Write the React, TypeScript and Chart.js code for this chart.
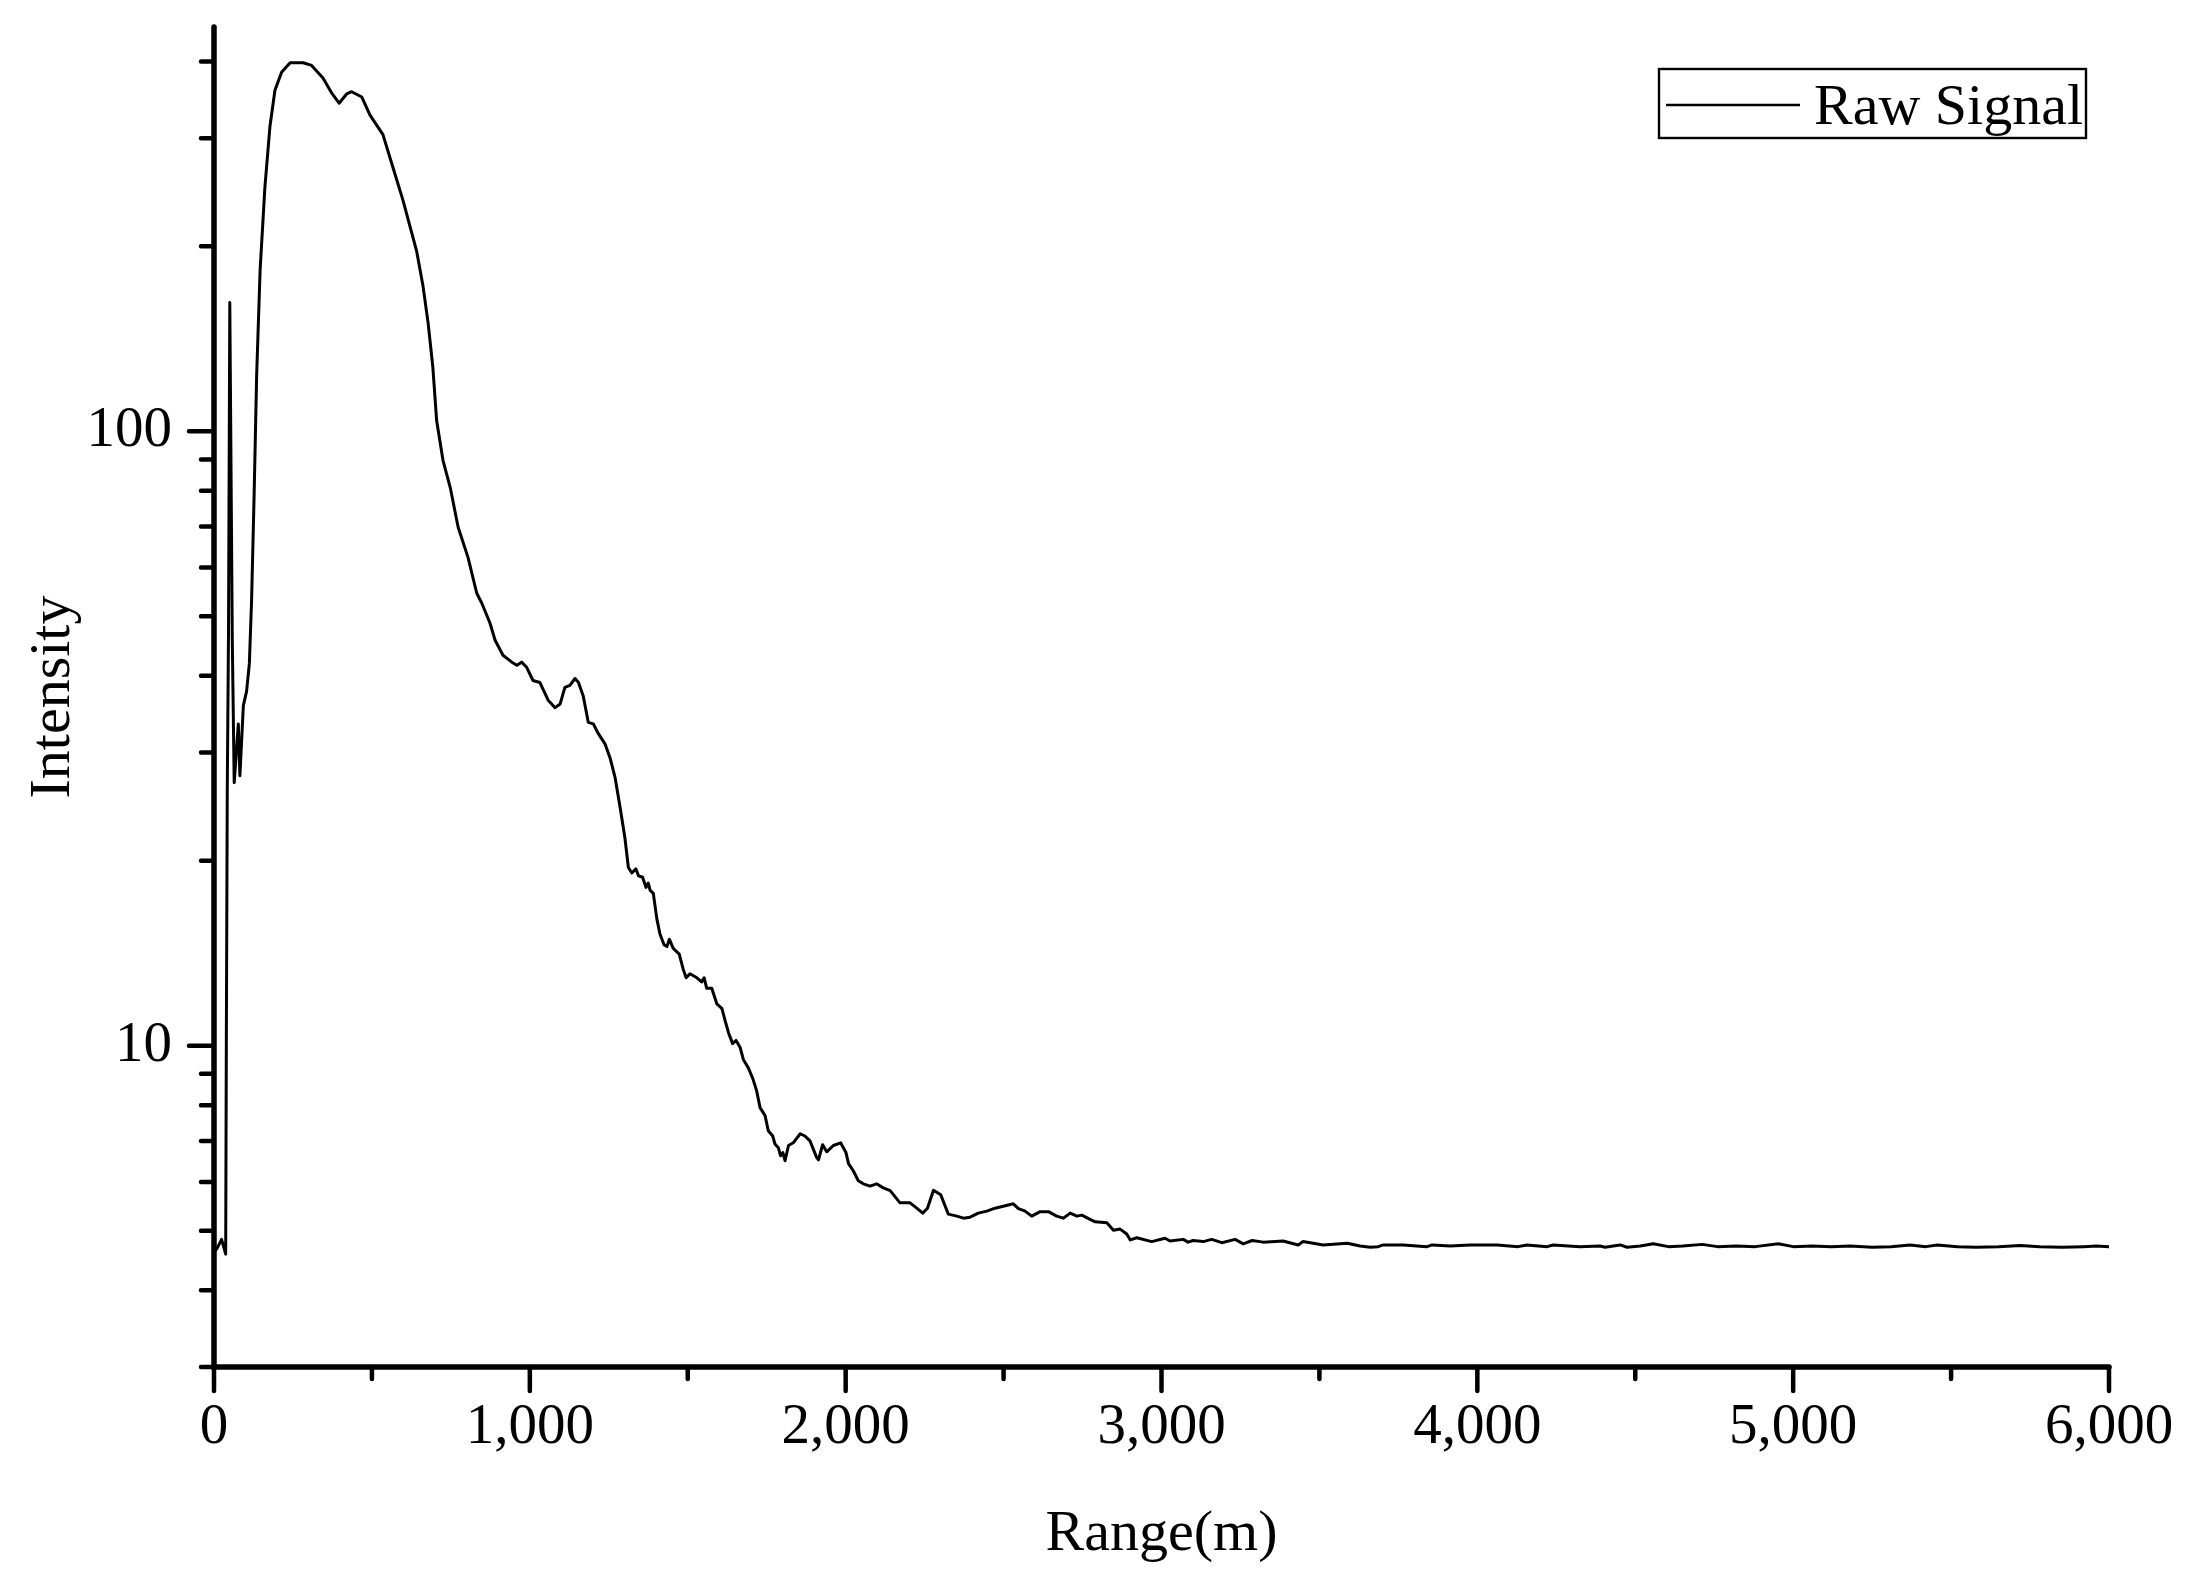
import React, { useEffect, useRef } from 'react';
import { Chart, registerables } from 'chart.js';

Chart.register(...registerables);

// ---- Data ----
const rangeM: number[] = [
  0, 9, 24, 37, 39, 42, 46, 50, 58, 64, 77, 82, 93, 103, 112, 119, 127, 135, 146, 161,
  177, 193, 214, 241, 282, 309, 345, 373, 396, 420, 436, 468, 494, 535, 557, 598, 642, 662, 678, 693,
  705, 725, 748, 773, 804, 832, 848, 874, 890, 915, 943, 959, 974, 990, 1010, 1032, 1058, 1080, 1096, 1111,
  1127, 1143, 1154, 1169, 1185, 1201, 1217, 1238, 1254, 1270, 1286, 1301, 1312, 1323, 1336, 1344, 1357, 1368, 1375, 1381,
  1391, 1402, 1412, 1425, 1434, 1442, 1454, 1473, 1486, 1495, 1507, 1518, 1529, 1544, 1552, 1560, 1576, 1592, 1608, 1618,
  1629, 1642, 1653, 1666, 1676, 1692, 1706, 1718, 1729, 1745, 1755, 1769, 1776, 1787, 1794, 1801, 1808, 1819, 1834, 1856,
  1871, 1887, 1908, 1914, 1927, 1940, 1961, 1984, 2001, 2009, 2024, 2040, 2056, 2077, 2098, 2119, 2141, 2172, 2204, 2225,
  2244, 2259, 2278, 2301, 2325, 2352, 2373, 2394, 2420, 2447, 2473, 2499, 2531, 2547, 2568, 2589, 2616, 2642, 2668, 2689,
  2711, 2732, 2748, 2769, 2790, 2827, 2848, 2869, 2890, 2901, 2922, 2969, 3011, 3027, 3069, 3084, 3100, 3132, 3159, 3191,
  3233, 3259, 3287, 3322, 3385, 3433, 3448, 3512, 3588, 3629, 3661, 3686, 3702, 3765, 3841, 3857, 3914, 3977, 4063, 4129,
  4157, 4221, 4240, 4325, 4389, 4404, 4452, 4474, 4516, 4557, 4605, 4650, 4712, 4760, 4820, 4880, 4953, 5000, 5060, 5120,
  5180, 5250, 5310, 5370, 5420, 5456, 5520, 5580, 5650, 5719, 5780, 5850, 5920, 5960, 6000,
];

const intensity: number[] = [
  4.64, 4.67, 4.84, 4.58, 9.9, 26, 47.7, 162, 45.3, 26.8, 33.4, 27.5, 35.8, 37.7, 41.9, 53.1, 78.7, 123, 183, 249,
  313, 359, 384, 398, 398, 394, 376, 355, 342, 354, 357, 350, 327, 304, 279, 238, 196, 172, 150, 127,
  104, 89.7, 81, 69.8, 62.4, 54.5, 52.5, 48.7, 45.7, 43.2, 42.1, 41.6, 42.1, 41.3, 39.3, 39.0, 36.5, 35.5, 36.0, 38.3,
  38.6, 39.6, 39.0, 37.1, 33.6, 33.4, 32.2, 31.0, 29.4, 27.3, 24.4, 21.8, 19.5, 19.1, 19.4, 18.9, 18.8, 18.1, 18.4, 17.9,
  17.7, 16.1, 15.2, 14.6, 14.5, 14.9, 14.4, 14.1, 13.3, 12.9, 13.1, 13.0, 12.9, 12.7, 12.9, 12.4, 12.4, 11.7, 11.5, 11.0,
  10.5, 10.08, 10.2, 9.93, 9.5, 9.2, 8.84, 8.45, 7.93, 7.69, 7.27, 7.13, 6.92, 6.82, 6.62, 6.70, 6.50, 6.88, 6.95, 7.19,
  7.13, 7.00, 6.58, 6.52, 6.90, 6.72, 6.88, 6.95, 6.70, 6.43, 6.26, 6.03, 5.96, 5.91, 5.96, 5.87, 5.81, 5.55, 5.55, 5.44,
  5.34, 5.44, 5.82, 5.72, 5.32, 5.28, 5.24, 5.26, 5.34, 5.38, 5.44, 5.48, 5.53, 5.43, 5.38, 5.28, 5.37, 5.37, 5.28, 5.24,
  5.34, 5.28, 5.30, 5.23, 5.17, 5.15, 5.01, 5.03, 4.94, 4.83, 4.87, 4.80, 4.86, 4.81, 4.84, 4.79, 4.82, 4.80, 4.84, 4.78,
  4.84, 4.76, 4.82, 4.79, 4.81, 4.74, 4.80, 4.74, 4.77, 4.72, 4.70, 4.71, 4.74, 4.74, 4.71, 4.74, 4.72, 4.74, 4.74, 4.71,
  4.74, 4.71, 4.74, 4.71, 4.72, 4.70, 4.74, 4.70, 4.72, 4.76, 4.71, 4.72, 4.75, 4.71, 4.72, 4.71, 4.76, 4.71, 4.72, 4.71,
  4.72, 4.70, 4.71, 4.74, 4.71, 4.74, 4.71, 4.70, 4.71, 4.73, 4.71, 4.70, 4.71, 4.72, 4.71,
];

const seriesLabel = 'Raw Signal';
const xTitle = 'Range(m)';
const yTitle = 'Intensity';

const xMajorTicks: number[] = [0, 1000, 2000, 3000, 4000, 5000, 6000];
const xMinorTicks: number[] = [500, 1500, 2500, 3500, 4500, 5500];
const yMajorTicks: number[] = [10, 100];
const yMinorTicks: number[] = [3, 4, 5, 6, 7, 8, 9, 20, 30, 40, 50, 60, 70, 80, 90, 200, 300, 400];

const X_MIN = 0;
const X_MAX = 6000;
const Y_MIN = 3;
const Y_MAX = 455;

const FONT_FAMILY = '"Liberation Serif", "Times New Roman", serif';

const axesPlugin = {
  id: 'originAxes',
  afterDraw(chart: any) {
    const { ctx, chartArea, scales } = chart;
    const xs = scales.x;
    const ys = scales.y;
    ctx.save();
    ctx.strokeStyle = '#000';
    ctx.lineCap = 'round';
    ctx.lineJoin = 'miter';
    ctx.lineWidth = 5.5;
    ctx.beginPath();
    ctx.moveTo(chartArea.left, chartArea.top);
    ctx.lineTo(chartArea.left, chartArea.bottom);
    ctx.lineTo(chartArea.right, chartArea.bottom);
    ctx.stroke();

    ctx.lineWidth = 4.5;
    ctx.beginPath();
    for (const t of ys.ticks) {
      const y = ys.getPixelForValue(t.value);
      const len = yMajorTicks.includes(t.value) ? 25 : 13;
      ctx.moveTo(chartArea.left, y);
      ctx.lineTo(chartArea.left - len, y);
    }
    for (const t of xs.ticks) {
      const x = xs.getPixelForValue(t.value);
      const len = xMajorTicks.includes(t.value) ? 24 : 12;
      ctx.moveTo(x, chartArea.bottom);
      ctx.lineTo(x, chartArea.bottom + len);
    }
    ctx.stroke();
    ctx.restore();
  },
};

const legendPlugin = {
  id: 'boxLegend',
  afterDraw(chart: any) {
    const { ctx, chartArea } = chart;
    const ds = chart.data.datasets[0];
    const boxLeft = chartArea.right - 450;
    const boxTop = chartArea.top + 42;
    const boxW = 427;
    const boxH = 69;
    ctx.save();
    ctx.strokeStyle = '#000';
    ctx.lineWidth = 2.4;
    ctx.strokeRect(boxLeft, boxTop, boxW, boxH);
    ctx.lineWidth = 2.4;
    ctx.beginPath();
    ctx.moveTo(boxLeft + 7, boxTop + 36);
    ctx.lineTo(boxLeft + 141, boxTop + 36);
    ctx.stroke();
    ctx.fillStyle = '#000';
    ctx.font = `58px ${FONT_FAMILY}`;
    ctx.textBaseline = 'alphabetic';
    ctx.textAlign = 'left';
    ctx.fillText(ds.label, boxLeft + 155, boxTop + 55);
    ctx.restore();
  },
};

export default function App() {
  const canvasRef = useRef<HTMLCanvasElement | null>(null);

  useEffect(() => {
    const canvas = canvasRef.current;
    if (!canvas) return;
    const tickFont = { family: FONT_FAMILY, size: 57, weight: 'normal' as const };
    const titleFont = { family: FONT_FAMILY, size: 58, weight: 'normal' as const };
    const points = rangeM.map((x, i) => ({ x, y: intensity[i] }));
    const xTicksAll = [...xMajorTicks, ...xMinorTicks].sort((a, b) => a - b);
    const yTicksAll = [...yMajorTicks, ...yMinorTicks].sort((a, b) => a - b);

    const chart = new Chart(canvas, {
      type: 'line',
      data: {
        datasets: [
          {
            label: seriesLabel,
            data: points,
            borderColor: '#000',
            backgroundColor: '#000',
            borderWidth: 3,
            pointRadius: 0,
            tension: 0,
            fill: false,
            borderJoinStyle: 'round',
            borderCapStyle: 'round',
          },
        ],
      },
      options: {
        animation: false,
        responsive: false,
        maintainAspectRatio: false,
        devicePixelRatio: 1,
        layout: { padding: { top: 27, right: 81, left: 0, bottom: 0 } },
        plugins: {
          legend: { display: false },
          tooltip: { enabled: false },
        },
        scales: {
          x: {
            type: 'linear',
            min: X_MIN,
            max: X_MAX,
            afterBuildTicks: (s: any) => {
              s.ticks = xTicksAll.map((v) => ({ value: v }));
            },
            afterFit: (s: any) => {
              s.height = 207;
              s.paddingLeft = 0;
              s.paddingRight = 0;
            },
            grid: { display: false, drawTicks: false },
            border: { display: false },
            ticks: {
              autoSkip: false,
              maxRotation: 0,
              minRotation: 0,
              padding: 27,
              color: '#000',
              font: tickFont,
              callback: (v: any) =>
                xMajorTicks.includes(Number(v)) ? Number(v).toLocaleString('en-US') : '',
            },
            title: {
              display: true,
              text: xTitle,
              color: '#000',
              font: titleFont,
              padding: { top: 0, bottom: 4 },
            },
          },
          y: {
            type: 'logarithmic',
            min: Y_MIN,
            max: Y_MAX,
            afterBuildTicks: (s: any) => {
              s.ticks = yTicksAll.map((v) => ({ value: v }));
            },
            afterFit: (s: any) => {
              s.width = 214;
              s.paddingTop = 0;
              s.paddingBottom = 0;
            },
            grid: { display: false, drawTicks: false },
            border: { display: false },
            ticks: {
              autoSkip: false,
              padding: 42,
              color: '#000',
              font: tickFont,
              callback: (v: any) => (yMajorTicks.includes(Number(v)) ? String(v) : ''),
            },
            title: {
              display: true,
              text: yTitle,
              color: '#000',
              font: titleFont,
              padding: { top: 19, bottom: 0 },
            },
          },
        },
      },
      plugins: [axesPlugin, legendPlugin],
    } as any);

    return () => chart.destroy();
  }, []);

  return (
    <div
      style={{
        position: 'absolute',
        left: 0,
        top: 0,
        width: 2190,
        height: 1574,
        background: '#fff',
      }}
    >
      <canvas ref={canvasRef} width={2190} height={1574} style={{ display: 'block' }} />
    </div>
  );
}
